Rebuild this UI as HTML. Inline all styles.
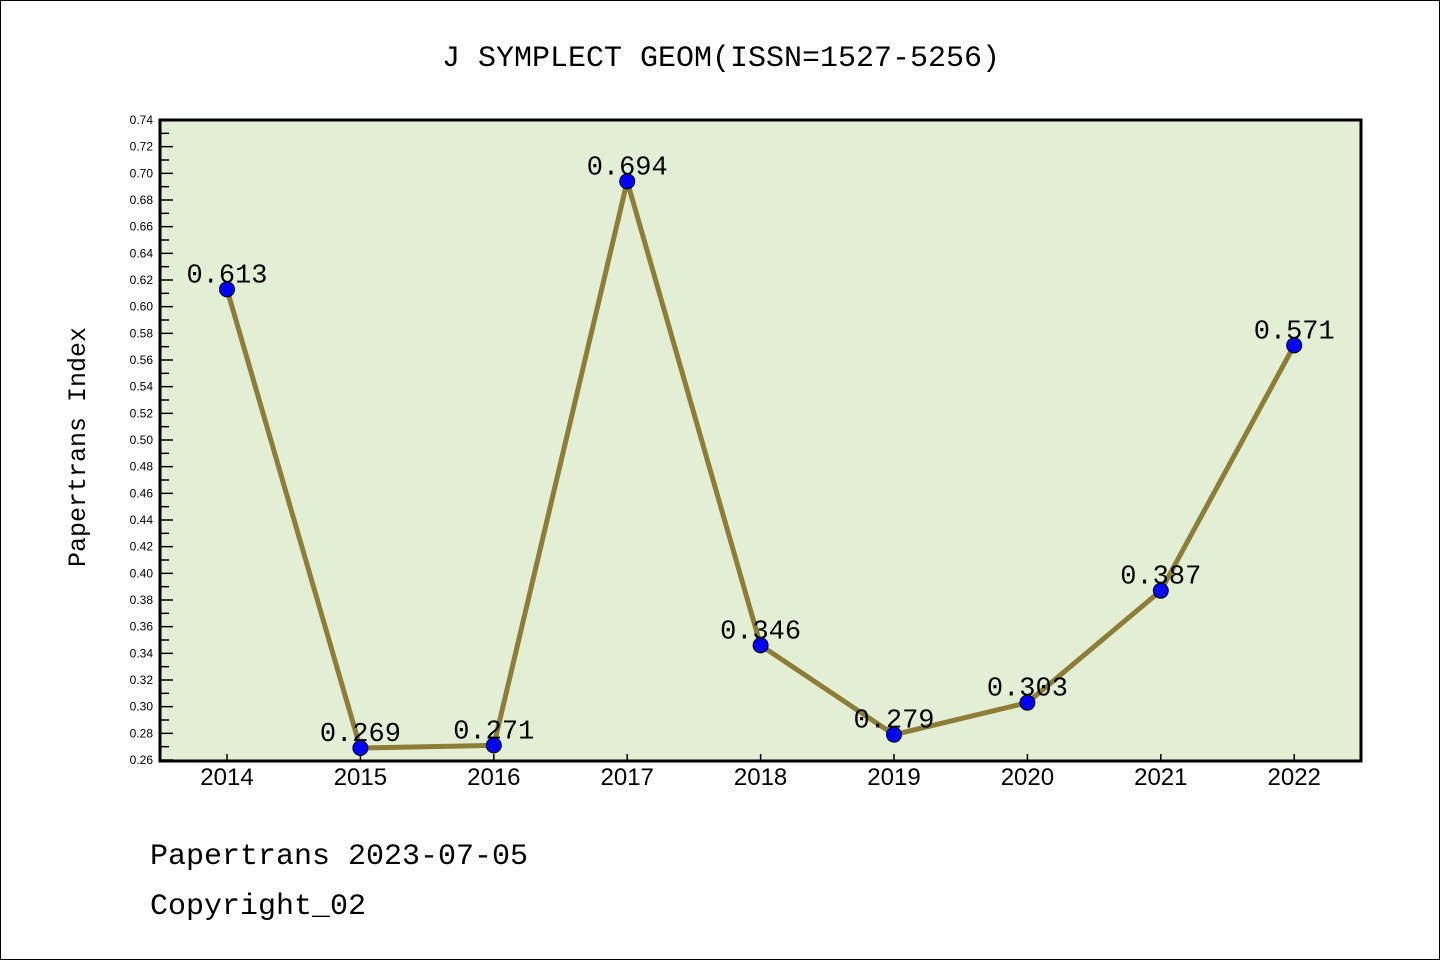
<!DOCTYPE html>
<html><head><meta charset="utf-8"><style>
html,body{margin:0;padding:0;background:#fff}
svg{display:block}
text{font-family:"Liberation Mono","WenQuanYi Zen Hei","DejaVu Sans Mono",monospace}
</style></head><body>
<svg id="chart" width="1440" height="960">
<rect x="0.5" y="0.5" width="1439" height="959" fill="#fff" stroke="#000"/>
<text x="721" y="66" text-anchor="middle" font-size="30">J SYMPLECT GEOM(ISSN=1527-5256)</text>
<rect x="160" y="120" width="1201" height="641" fill="#e2efd5"/>
<g id="axes"></g>
<g id="series"></g>
<rect x="160" y="120" width="1201" height="641" fill="none" stroke="#000" stroke-width="3"/>
<text transform="translate(85,447) rotate(-90)" text-anchor="middle" font-size="25">Papertrans Index</text>
<text x="150" y="864" font-size="30">Papertrans 2023-07-05</text>
<text x="150" y="914" font-size="30">Copyright_02</text>
</svg>
<script>
const categories=["2014","2015","2016","2017","2018","2019","2020","2021","2022"];
const values=[0.613,0.269,0.271,0.694,0.346,0.279,0.303,0.387,0.571];
const valueLabels=["0.613","0.269","0.271","0.694","0.346","0.279","0.303","0.387","0.571"];
const yTicks=[0.26,0.28,0.30,0.32,0.34,0.36,0.38,0.40,0.42,0.44,0.46,0.48,0.50,0.52,0.54,0.56,0.58,0.60,0.62,0.64,0.66,0.68,0.70,0.72,0.74];
const NS="http://www.w3.org/2000/svg";
const yMin=0.26,yMax=0.74,plotTop=120,plotBot=760;
function ys(v){return plotBot-(v-yMin)/(yMax-yMin)*(plotBot-plotTop);}
function xs(i){return 227+i*133.4;}
function mk(t,a,p){const e=document.createElementNS(NS,t);for(const k in a)e.setAttribute(k,a[k]);p.appendChild(e);return e;}
const ax=document.getElementById('axes'),se=document.getElementById('series');
yTicks.forEach((v,i)=>{
  const l=mk('line',{x1:160,x2:173,y1:ys(v),y2:ys(v),stroke:'#000','stroke-width':1.5},ax);
  
  
  if(i<yTicks.length-1){const m=mk('line',{x1:160,x2:169,y1:ys(v+0.01),y2:ys(v+0.01),stroke:'#000','stroke-width':1.5},ax);
  
  }
  const t=mk('text',{x:153,y:ys(v)+4,'text-anchor':'end','font-size':12,style:'font-family:"Liberation Sans",sans-serif'},ax);
  t.textContent=v.toFixed(2);
  
  
});
categories.forEach((c,i)=>{
  const l=mk('line',{x1:xs(i),x2:xs(i),y1:761,y2:754,stroke:'#000','stroke-width':1.5},ax);
  
  
  const t=mk('text',{x:xs(i),y:785,'text-anchor':'middle','font-size':24,style:'font-family:"Liberation Sans",sans-serif'},ax);
  t.textContent=c;
  
  
});
const pl=mk('polyline',{points:values.map((v,i)=>xs(i)+','+ys(v)).join(' '),fill:'none',stroke:'#8e7d36','stroke-width':5,'stroke-linejoin':'round'},se);


values.forEach((v,i)=>{
  const c=mk('circle',{cx:xs(i),cy:ys(v),r:7.5,fill:'#0000ff',stroke:'#000','stroke-width':1},se);
  
  
  const t=mk('text',{x:xs(i),y:ys(v)-7,'text-anchor':'middle','font-size':27},se);
  t.textContent=valueLabels[i];
  
  
});
</script>
</body></html>
